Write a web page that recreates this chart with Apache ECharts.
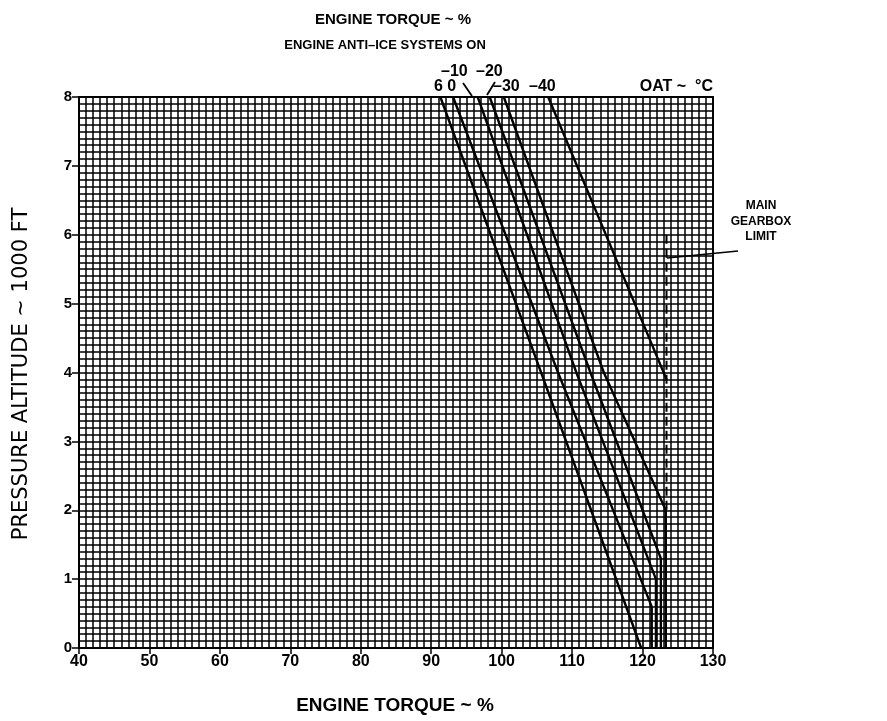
<!DOCTYPE html>
<html>
<head>
<meta charset="utf-8">
<script src="https://cdn.jsdelivr.net/npm/echarts@6/dist/echarts.min.js"></script>
<style>
html,body{margin:0;padding:0;background:#fff;}
#chart{width:887px;height:721px;}
</style>
</head>
<body>
<div id="chart"></div>
<script>
// ---- data ----
const oatLabels = ['6', '0', '-10', '-20', '-30', '-40'];

const torque6   = [91.3, 105.6, 119.8];
const alt6      = [8, 4, 0];

const torque0   = [93.1, 108.0, 121.3, 121.3];
const alt0      = [8, 4, 0.6, 0];

const torqueM10 = [96.6, 110.6, 121.9, 121.9];
const altM10    = [8, 4, 1.0, 0];

const torqueM20 = [98.3, 112.6, 122.6, 122.6];
const altM20    = [8, 4, 1.3, 0];

const torqueM30 = [100.3, 114.5, 123.3, 123.3];
const altM30    = [8, 4, 2.0, 0];

const torqueM40 = [106.6, 123.4];
const altM40    = [8, 3.9];

const gearboxTorque = [123.4, 123.4];
const gearboxAlt    = [6.0, 2.0];

const xMin = 40, xMax = 130, xStep = 10;
const yMin = 0, yMax = 8, yStep = 1;

function pairs(xs, ys) { return xs.map((x, i) => [x, ys[i]]); }

const FONT = '"Liberation Sans", Arial, Helvetica, sans-serif';
const chart = echarts.init(document.getElementById('chart'), null, {renderer: 'canvas'});

const curveStyle = {color: '#000', width: 2.4};
function curve(name, xs, ys) {
  return {
    name: name, type: 'line', data: pairs(xs, ys), symbol: 'none',
    lineStyle: curveStyle, silent: true, z: 5
  };
}

const option = {
  animation: false,
  backgroundColor: '#fff',
  grid: {left: 79, right: 174, top: 97, bottom: 73, show: true,
         borderColor: '#000', borderWidth: 1.8, backgroundColor: '#fff'},
  xAxis: {
    type: 'value', min: xMin, max: xMax, interval: xStep,
    axisLine: {show: true, onZero: false, lineStyle: {color: '#000', width: 1.8}},
    axisTick: {show: true, length: 6, lineStyle: {color: '#000', width: 1.5}},
    axisLabel: {color: '#000', fontFamily: FONT, fontWeight: 'bold', fontSize: 16, margin: 6},
    splitLine: {show: true, lineStyle: {color: '#000', width: 1.6}},
    minorTick: {show: false, splitNumber: 10},
    minorSplitLine: {show: true, lineStyle: {color: '#000', width: 1.5}}
  },
  yAxis: {
    type: 'value', min: yMin, max: yMax, interval: yStep,
    axisLine: {show: true, onZero: false, lineStyle: {color: '#000', width: 1.8}},
    axisTick: {show: true, length: 7, lineStyle: {color: '#000', width: 1.5}},
    axisLabel: {color: '#000', fontFamily: FONT, fontWeight: 'bold', fontSize: 15, margin: 7},
    splitLine: {show: true, lineStyle: {color: '#000', width: 1.6}},
    minorTick: {show: false, splitNumber: 10},
    minorSplitLine: {show: true, lineStyle: {color: '#000', width: 1.5}}
  },
  series: [
    curve(oatLabels[0], torque6, alt6),
    curve(oatLabels[1], torque0, alt0),
    curve(oatLabels[2], torqueM10, altM10),
    curve(oatLabels[3], torqueM20, altM20),
    curve(oatLabels[4], torqueM30, altM30),
    curve(oatLabels[5], torqueM40, altM40),
    {
      name: 'MAIN GEARBOX LIMIT', type: 'line', data: pairs(gearboxTorque, gearboxAlt),
      symbol: 'none', silent: true, z: 5,
      lineStyle: {color: '#000', width: 2, type: [9, 5]}
    }
  ],
  graphic: [
    {type: 'text', x: 393, y: 20, style: {text: 'ENGINE TORQUE ~ %', fill: '#000',
      font: 'bold 15px ' + FONT, align: 'center', verticalAlign: 'middle'}},
    {type: 'text', x: 385, y: 45, style: {text: 'ENGINE ANTI\u2013ICE SYSTEMS ON', fill: '#000',
      font: 'bold 13px ' + FONT, align: 'center', verticalAlign: 'middle'}},
    {type: 'text', x: 441, y: 72, style: {text: '\u201310', fill: '#000', font: 'bold 16px ' + FONT, verticalAlign: 'middle'}},
    {type: 'text', x: 476, y: 72, style: {text: '\u201320', fill: '#000', font: 'bold 16px ' + FONT, verticalAlign: 'middle'}},
    {type: 'text', x: 434, y: 87, style: {text: '6 0', fill: '#000', font: 'bold 16px ' + FONT, verticalAlign: 'middle'}},
    {type: 'text', x: 493, y: 87, style: {text: '\u201330', fill: '#000', font: 'bold 16px ' + FONT, verticalAlign: 'middle'}},
    {type: 'text', x: 529, y: 87, style: {text: '\u201340', fill: '#000', font: 'bold 16px ' + FONT, verticalAlign: 'middle'}},
    {type: 'text', x: 713, y: 87, style: {text: 'OAT ~  \u00B0C', fill: '#000', font: 'bold 16px ' + FONT, align: 'right', verticalAlign: 'middle'}},
    {type: 'line', shape: {x1: 463, y1: 83, x2: 472, y2: 96}, style: {stroke: '#000', lineWidth: 1.8}},
    {type: 'line', shape: {x1: 495, y1: 82, x2: 487, y2: 95}, style: {stroke: '#000', lineWidth: 1.8}},
    {type: 'text', x: 22, y: 374, rotation: Math.PI / 2,
      style: {text: 'PRESSURE ALTITUDE ~ 1000 FT', fill: '#000', font: '21px "DejaVu Sans", ' + FONT,
        align: 'center', verticalAlign: 'middle'}},
    {type: 'text', x: 395, y: 706, style: {text: 'ENGINE TORQUE ~ %', fill: '#000',
      font: 'bold 19px ' + FONT, align: 'center', verticalAlign: 'middle'}},
    {type: 'text', x: 761, y: 198, style: {text: 'MAIN\nGEARBOX\nLIMIT', fill: '#000',
      font: 'bold 12px ' + FONT, align: 'center', lineHeight: 15.5}},
    {type: 'line', shape: {x1: 667, y1: 258, x2: 738, y2: 251}, style: {stroke: '#000', lineWidth: 1.6}}
  ]
};
chart.setOption(option);
</script>
</body>
</html>
